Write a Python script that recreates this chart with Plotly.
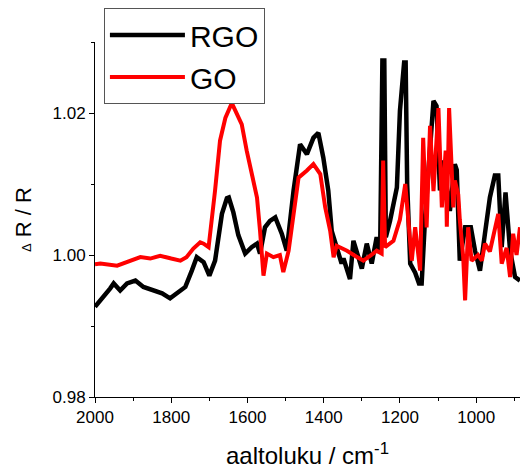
import plotly.graph_objects as go

# RGO (black) series
rgo_wavenumber = [2000, 1977, 1960, 1951, 1934, 1916, 1894, 1873, 1846, 1824, 1803, 1781, 1763, 1746,
                  1733, 1715, 1700, 1685, 1667, 1654, 1649, 1637, 1624, 1606, 1589, 1575, 1567, 1554,
                  1541, 1527, 1510, 1497, 1479, 1462, 1444, 1427, 1414, 1401, 1388, 1379, 1370, 1362,
                  1353, 1348, 1335, 1331, 1322, 1313, 1300, 1287, 1274, 1261, 1252, 1246, 1241, 1237,
                  1226, 1208, 1200, 1189, 1185, 1181, 1173, 1160, 1150, 1143, 1134, 1112, 1104, 1095,
                  1086, 1069, 1056, 1051, 1047, 1043, 1029, 1014, 1003, 990, 977, 964, 951, 942, 933,
                  923, 911, 898, 885]
rgo_values = [0.9927, 0.9941, 0.9953, 0.9960, 0.9950, 0.9960, 0.9964, 0.9955, 0.9950, 0.9946, 0.9939,
              0.9948, 0.9955, 0.9978, 0.9997, 0.9990, 0.9971, 0.9992, 1.0058, 1.0080, 1.0081, 1.0060,
              1.0028, 1.0002, 1.0011, 1.0016, 1.0002, 1.0039, 1.0048, 1.0053, 1.0030, 1.0006, 1.0091,
              1.0156, 1.0142, 1.0165, 1.0172, 1.0137, 1.0091, 1.0034, 1.0016, 1.0005, 0.9988, 0.9995,
              0.9976, 0.9966, 1.0020, 1.0002, 0.9981, 1.0016, 0.9988, 1.0025, 1.0002, 1.0274, 1.0274,
              1.0025, 1.0048, 1.0095, 1.0203, 1.0271, 1.0271, 1.0100, 0.9988, 0.9975, 0.9960, 0.9960,
              1.0053, 1.0217, 1.0210, 1.0091, 1.0133, 1.0062, 1.0128, 1.0120, 1.0053, 0.9992, 1.0039,
              1.0039, 1.0006, 0.9978, 1.0030, 1.0081, 1.0112, 1.0112, 1.0011, 1.0088, 1.0006, 0.9969,
              0.9964]

# GO (red) series
go_wavenumber = [2000, 1986, 1942, 1907, 1881, 1855, 1829, 1800, 1776, 1760, 1742, 1724, 1715, 1702,
                 1693, 1685, 1672, 1658, 1641, 1628, 1615, 1602, 1589, 1575, 1567, 1558, 1549, 1532,
                 1515, 1506, 1492, 1479, 1466, 1444, 1427, 1409, 1396, 1383, 1374, 1366, 1339, 1315,
                 1296, 1275, 1261, 1248, 1244, 1239, 1217, 1200, 1186, 1169, 1160, 1147, 1139, 1130,
                 1121, 1112, 1099, 1090, 1080, 1077, 1071, 1060, 1056, 1047, 1043, 1034, 1029, 1021,
                 1012, 995, 985, 977, 964, 942, 933, 920, 911, 903, 894, 885]
go_values = [0.9987, 0.9988, 0.9985, 0.9992, 0.9997, 0.9995, 0.9999, 0.9995, 0.9992, 0.9997, 1.0009,
             1.0018, 1.0016, 1.0011, 1.0048, 1.0091, 1.0161, 1.0193, 1.0214, 1.0198, 1.0184, 1.0147,
             1.0114, 1.0081, 1.0034, 0.9971, 1.0002, 0.9997, 1.0000, 0.9976, 1.0006, 1.0053, 1.0109,
             1.0119, 1.0128, 1.0114, 1.0067, 1.0034, 0.9997, 1.0013, 1.0006, 0.9998, 0.9992, 1.0000,
             1.0006, 1.0002, 1.0133, 1.0011, 1.0020, 1.0050, 1.0100, 0.9992, 1.0039, 0.9978, 1.0165,
             1.0039, 1.0182, 1.0090, 1.0207, 1.0067, 1.0147, 1.0040, 1.0207, 1.0067, 1.0105, 1.0085,
             1.0050, 0.9997, 0.9936, 1.0039, 0.9992, 1.0000, 0.9992, 1.0016, 1.0005, 1.0058, 0.9988,
             1.0010, 0.9969, 1.0030, 1.0000, 1.0039]

x_tick_values = [2000, 1800, 1600, 1400, 1200, 1000]
y_tick_values = [0.98, 1.00, 1.02]
y_tick_labels = ["0.98", "1.00", "1.02"]

FONT = "Arial, Liberation Sans, sans-serif"

fig = go.Figure()
fig.add_trace(go.Scatter(x=rgo_wavenumber, y=rgo_values, mode="lines", name="RGO",
                         line=dict(color="black", width=4.5)))
fig.add_trace(go.Scatter(x=go_wavenumber, y=go_values, mode="lines", name="GO",
                         line=dict(color="#ff0000", width=4)))

axis_common = dict(showgrid=False, zeroline=False, showline=True, linecolor="black", linewidth=1,
                   ticks="outside", ticklen=5, tickwidth=1, tickcolor="black",
                   tickfont=dict(family=FONT, size=17, color="black"))

fig.update_layout(
    width=520, height=472,
    margin=dict(l=95, r=0, t=42, b=75),
    paper_bgcolor="white", plot_bgcolor="white",
    xaxis=dict(range=[2000, 885], tickvals=x_tick_values,
               minor=dict(dtick=100, tick0=2000, ticks="outside", ticklen=3, tickcolor="black"),
               title=dict(text="aaltoluku / cm<sup>-1</sup>", font=dict(family=FONT, size=24, color="black"),
                          standoff=20),
               **axis_common),
    yaxis=dict(range=[0.98, 1.03], tickvals=y_tick_values, ticktext=y_tick_labels,
               minor=dict(dtick=0.01, tick0=0.98, ticks="outside", ticklen=3, tickcolor="black"),
               title=dict(text="<span style='font-size:13px'>Δ</span> R / R",
                          font=dict(family=FONT, size=22, color="black"), standoff=14),
               **axis_common),
    legend=dict(x=0.021, y=1.096, xanchor="left", yanchor="top",
                bordercolor="#555555", borderwidth=1, bgcolor="white",
                font=dict(family=FONT, size=30, color="black"),
                itemwidth=75, tracegroupgap=0),
    showlegend=True,
)

fig.write_html("out.html")
